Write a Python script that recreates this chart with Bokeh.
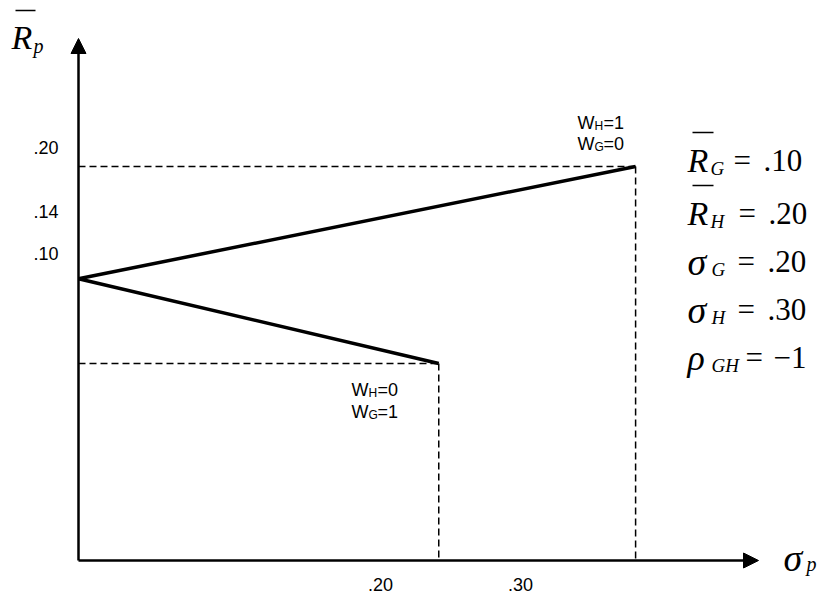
from bokeh.plotting import figure
from bokeh.models import Range1d, Arrow, NormalHead
from bokeh.core.properties import value
from bokeh.embed import file_html
from bokeh.resources import INLINE

# ---- data (schematic values) ----
frontier_sigma = [0.0, 0.30]       # min-variance point -> asset H
frontier_R = [0.143, 0.20]
lower_sigma = [0.0, 0.194]         # min-variance point -> asset G
lower_R = [0.143, 0.10]
H_point = (0.30, 0.20)
G_point = (0.194, 0.10)

y_tick_labels = [".20", ".14", ".10"]
y_tick_pos = [0.2096, 0.1772, 0.1558]
x_tick_labels = [".20", ".30"]
x_tick_pos = [0.1626, 0.2380]

eq_symbols = ["R", "R", "σ", "σ", "ρ"]
eq_subs = ["G", "H", "G", "H", "GH"]
eq_values = [".10", ".20", ".20", ".30", "−1"]
eq_bar = [True, True, False, False, False]

# ---- layout helpers (screen px of reference -> data units) ----
def X(px):
    return (px - 78) / 1857.0

def Y(py):
    return (560 - py) / 1970.0

W, H = 818, 596
p = figure(width=W, height=H, output_backend="svg", toolbar_location=None,
           x_range=Range1d(X(0), X(W)), y_range=Range1d(Y(H), Y(0)),
           min_border=0, outline_line_color=None)
p.axis.visible = False
p.grid.visible = False

SANS = value("Liberation Sans")
SERIF = value("Liberation Serif")

# axes with arrows
head = dict(size=15, fill_color="black", line_color="black")
p.add_layout(Arrow(end=NormalHead(**head), x_start=0, y_start=0, x_end=X(758), y_end=0,
                   line_width=2.5, line_color="black"))
p.add_layout(Arrow(end=NormalHead(**head), x_start=0, y_start=0, x_end=0, y_end=Y(38),
                   line_width=2.5, line_color="black"))

# dashed guides
for (sx, ry) in [H_point, G_point]:
    p.line([0, sx], [ry, ry], line_dash="7 4", line_width=1.5, line_color="black")
    p.line([sx, sx], [ry, 0], line_dash="7 4", line_width=1.5, line_color="black")

# frontier lines
p.line(frontier_sigma, frontier_R, line_width=3.5, line_color="black")
p.line(lower_sigma, lower_R, line_width=3.5, line_color="black")

# tick labels
p.text(x=[0] * len(y_tick_pos), y=y_tick_pos, text=y_tick_labels, x_offset=-20,
       text_align="right", text_baseline="middle", text_font=SANS,
       text_font_size="18px", text_color="black")
p.text(x=x_tick_pos, y=[0] * len(x_tick_pos), text=x_tick_labels, y_offset=24,
       text_align="center", text_baseline="middle", text_font=SANS,
       text_font_size="18px", text_color="black")

# weight annotations
def wlabel(px, py, sub, val):
    p.text(x=[X(px)], y=[Y(py)], text=["W"], text_align="left", text_baseline="middle",
           text_font=SANS, text_font_size="18px", text_color="black")
    p.text(x=[X(px + 17)], y=[Y(py + 3)], text=[sub], text_align="left",
           text_baseline="middle", text_font=SANS, text_font_size="12px", text_color="black")
    p.text(x=[X(px + 26)], y=[Y(py)], text=["=" + val], text_align="left",
           text_baseline="middle", text_font=SANS, text_font_size="18px", text_color="black")

wlabel(577, 122, "H", "1")
wlabel(577, 143, "G", "0")
wlabel(351, 389, "H", "0")
wlabel(351, 411, "G", "1")

# equations at right
baselines = [160, 213, 261, 309, 357]
eq_x = [733, 738, 737, 737, 745]
val_x = [763, 768, 767, 767, 773]
sym_size = ["34px", "34px", "38px", "38px", "36px"]
for i in range(5):
    b = baselines[i]
    p.text(x=[X(687)], y=[Y(b)], text=[eq_symbols[i]], text_align="left",
           text_baseline="alphabetic", text_font=SERIF, text_font_style="italic",
           text_font_size=sym_size[i], text_color="black")
    subx = 710 if eq_symbols[i] == "R" else 711
    p.text(x=[X(subx)], y=[Y(b + 8)], text=[eq_subs[i]], text_align="left",
           text_baseline="alphabetic", text_font=SERIF, text_font_style="italic",
           text_font_size="19px", text_color="black")
    p.text(x=[X(eq_x[i])], y=[Y(b)], text=["="], text_align="left",
           text_baseline="alphabetic", text_font=SERIF,
           text_font_size="31px", text_color="black")
    p.text(x=[X(val_x[i])], y=[Y(b)], text=[eq_values[i]], text_align="left",
           text_baseline="alphabetic", text_font=SERIF,
           text_font_size="31px", text_color="black")
    if eq_bar[i]:
        p.segment(x0=[X(692)], y0=[Y(b - 28)], x1=[X(713)], y1=[Y(b - 28)],
                  line_width=1.5, line_color="black")

# axis titles
p.text(x=[X(11)], y=[Y(37)], text=["R"], text_align="left", text_baseline="alphabetic",
       text_font=SERIF, text_font_style="italic", text_font_size="34px", text_color="black")
p.text(x=[X(33)], y=[Y(45)], text=["p"], text_align="left", text_baseline="alphabetic",
       text_font=SERIF, text_font_style="italic", text_font_size="20px", text_color="black")
p.segment(x0=[X(15)], y0=[Y(10)], x1=[X(35)], y1=[Y(10)], line_width=1.5, line_color="black")

p.text(x=[X(783)], y=[Y(557)], text=["σ"], text_align="left", text_baseline="alphabetic",
       text_font=SERIF, text_font_style="italic", text_font_size="38px", text_color="black")
p.text(x=[X(806)], y=[Y(563)], text=["p"], text_align="left", text_baseline="alphabetic",
       text_font=SERIF, text_font_style="italic", text_font_size="20px", text_color="black")

open("out.html", "w").write(file_html(p, INLINE))
